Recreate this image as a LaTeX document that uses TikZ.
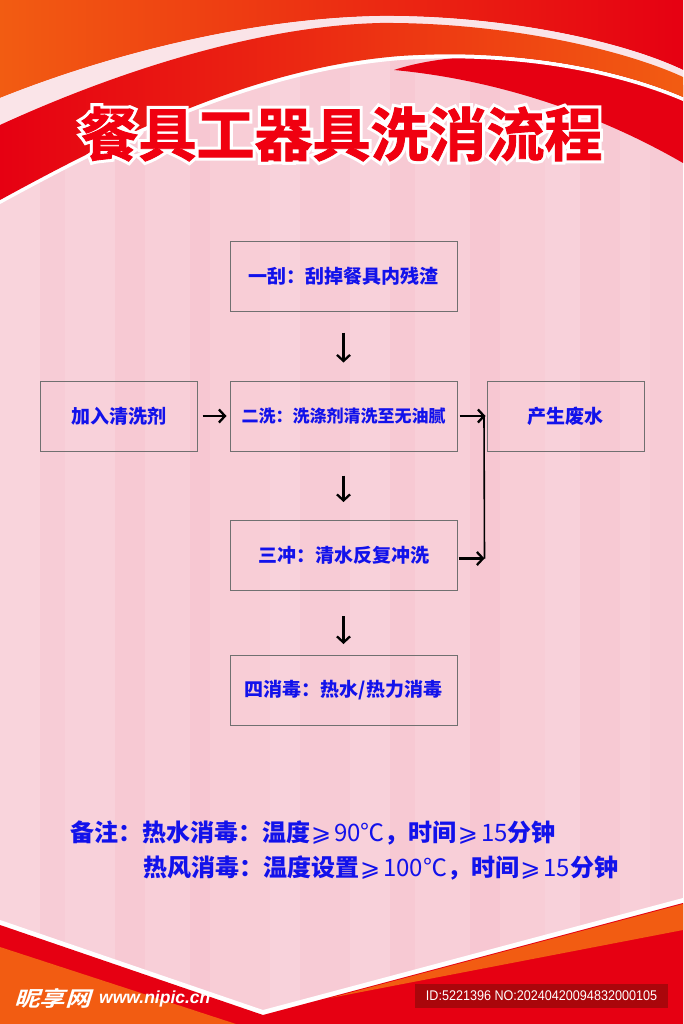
\documentclass[tikz,border=0pt]{standalone}
\usepackage{fontspec}
\usetikzlibrary{arrows.meta}
\newfontfamily\cjk{Noto Sans CJK SC}
\newfontfamily\titlefont{Noto Sans CJK SC Bold}[FakeBold=1.5]
\newfontfamily\titleoutline{Noto Sans CJK SC Bold}[FakeBold=12]
\newfontfamily\wmfont{Noto Sans CJK SC Bold}[FakeSlant=0.25]
\newfontfamily\numfont{Noto Sans CJK SC}
\newfontfamily\symfont{DejaVu Sans}
\newfontfamily\idfont{Liberation Sans}
\newcommand{\mygeq}{\hspace{1pt}{\symfont\mdseries ⩾}\hspace{3pt}}
\newcommand{\numtxt}[1]{{\numfont\mdseries #1}}
\definecolor{bgpink}{RGB}{247,198,209}
\definecolor{redA}{RGB}{230,0,18}
\definecolor{orangeA}{RGB}{242,92,18}
\definecolor{orangeB}{RGB}{236,40,14}
\definecolor{txtblue}{RGB}{18,18,235}
\definecolor{boxgray}{RGB}{112,112,112}
\definecolor{titlered}{RGB}{240,0,16}
\definecolor{lightband}{RGB}{250,228,232}
\definecolor{idred}{RGB}{160,8,10}
\begin{document}
\begin{tikzpicture}[x=1pt,y=-1pt,
  stepbox/.style={draw=boxgray, line width=1pt, minimum width=227pt, minimum height=70pt,
    inner sep=0pt, font=\cjk\bfseries\fontsize{19}{19}\selectfont, text=txtblue},
  arr/.style={-{Straight Barb[length=6pt,width=13pt]}, line width=2.3pt, black},
  titletxt/.style={font=\titlefont\fontsize{58}{58}\selectfont, inner sep=0pt},
  notetxt/.style={anchor=west, inner sep=0pt, text=txtblue, font=\cjk\bfseries\fontsize{24}{28}\selectfont}]
\useasboundingbox (0,0) rectangle (683,1024);
% background
\fill[bgpink] (0,0) rectangle (683,1024);
\foreach \x/\w/\o in {0/40/0.25, 40/25/0.12, 65/50/0.2, 115/30/0.06, 145/45/0.16, 190/20/0.03,
  210/60/0.13, 270/30/0.22, 300/50/0.1, 350/40/0.2, 390/25/0.06, 415/55/0.16, 470/30/0.03,
  500/45/0.13, 545/35/0.2, 580/40/0.06, 620/30/0.16, 650/33/0.1}
  \fill[white, opacity=\o] (\x,0) rectangle ++(\w,1024);
% top decoration
\shade[left color=orangeA, middle color=orangeB, right color=redA]
  (0,0) -- (683,0) -- (683,70) .. controls (620,40) and (500,15) .. (380,16)
  .. controls (260,18) and (120,50) .. (0,98) -- cycle;
\fill[lightband] (0,98) .. controls (120,50) and (260,18) .. (380,16)
  .. controls (500,15) and (620,40) .. (683,70) -- (683,101)
  .. controls (620,74) and (520,52) .. (400,60) .. controls (250,72) and (110,144) .. (0,204) -- cycle;
\fill[redA] (394,70) .. controls (430,58) and (480,54) .. (540,55) -- (683,85) -- (683,163)
  .. controls (600,115) and (500,80) .. (394,70) -- cycle;
\fill[white] (0,199) .. controls (110,140) and (250,68) .. (400,56)
  .. controls (520,48) and (620,70) .. (683,97) -- (683,101)
  .. controls (620,74) and (520,52) .. (400,60) .. controls (250,72) and (110,144) .. (0,204) -- cycle;
\shade[left color=redA, middle color=redA, right color=orangeA]
  (0,125) .. controls (120,70) and (260,26) .. (380,23) .. controls (500,22) and (620,48) .. (683,77)
  -- (683,97) .. controls (620,70) and (520,48) .. (400,56) .. controls (250,68) and (110,140) .. (0,200) -- cycle;
% bottom decoration
\fill[white] (0,920) -- (263,1010) -- (683,898) -- (683,1024) -- (0,1024) -- cycle;
\fill[redA] (0,925) -- (263,1015) -- (683,903) -- (683,1024) -- (0,1024) -- cycle;
\fill[orangeA] (0,947) -- (236,1024) -- (0,1024) -- cycle;
\fill[orangeA] (683,904) -- (330,998) -- (683,930) -- cycle;
% title with white outline
\node[titletxt, font=\titleoutline\fontsize{58}{58}\selectfont, text=white] (tw) at (341.5,134) {餐具工器具洗消流程};
\node[titletxt, text=titlered] (title) at (341.5,134) {餐具工器具洗消流程};
% boxes
\node[stepbox] (b1) at (343.5,276) {一刮：刮掉餐具内残渣};
\node[stepbox, minimum width=157pt] (b0) at (118.5,416) {加入清洗剂};
\node[stepbox, font=\cjk\bfseries\fontsize{17}{17}\selectfont] (b2) at (343.5,416) {二洗：洗涤剂清洗至无油腻};
\node[stepbox, minimum width=157pt] (b5) at (565.5,416) {产生废水};
\node[stepbox] (b3) at (343.5,555.5) {三冲：清水反复冲洗};
\node[stepbox] (b4) at (343.5,690.5) {四消毒：热水/热力消毒};
% connectors
\draw[arr, shorten <=21pt, shorten >=18pt] (b1) -- (b2);
\draw[arr, shorten <=24pt, shorten >=18pt] (b2) -- (b3);
\draw[arr, shorten <=25pt, shorten >=11pt] (b3) -- (b4);
\draw[arr, shorten <=5pt, shorten >=3pt] (b0) -- (b2);
\draw[arr, shorten <=2pt, shorten >=1pt] (b2) -- (b5);
\coordinate (j1) at (484,416);
\draw[arr, shorten <=1pt] ([yshift=-3pt]b3.east) -- ++(27,0) coordinate (j2);
\draw[line width=1.6pt] (j2) -- (j1);
% notes
\node[notetxt] (n1) at (70,833) {备注：热水消毒：温度\mygeq\numtxt{90℃}，时间\mygeq\numtxt{15}分钟};
\node[notetxt] (n2) at (143,868) {热风消毒：温度设置\mygeq\numtxt{100℃}，时间\mygeq\numtxt{15}分钟};
% watermark
\node[anchor=west, inner sep=0pt, text=white, font=\wmfont\fontsize{21}{21}\selectfont] (wm1) at (14,998) {\scalebox{1.22}[1]{昵享网}};
\node[anchor=west, inner sep=0pt, text=white, font=\idfont\bfseries\itshape\fontsize{17.5}{17.5}\selectfont] (wm2) at (99,999) {www.nipic.cn};
\node[fill=idred, fill opacity=0.85, text opacity=1, text=white, minimum width=253pt, minimum height=24pt,
  inner sep=0pt, font=\idfont\fontsize{14}{14}\selectfont] (idbox) at (541.5,996) {\scalebox{0.9}[1]{ID:5221396 NO:20240420094832000105}};
\end{tikzpicture}
\end{document}
